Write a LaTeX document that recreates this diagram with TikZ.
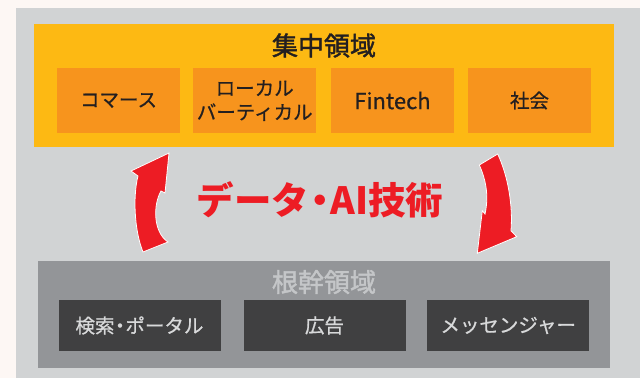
\documentclass[tikz,border=0pt]{standalone}
\usepackage{fontspec}
\setmainfont{Noto Sans CJK JP}
\newfontfamily\jp{Noto Sans CJK JP}
\newfontfamily\jplabel{Noto Sans CJK JP}[FakeBold=0.7]
\newfontfamily\jptitle{Noto Sans CJK JP}[FakeBold=1.6]
\newcommand\tightdot{\hspace{-0.22em}・\hspace{-0.22em}}
\definecolor{pagebg}{HTML}{FDF7F4}
\definecolor{panelgray}{HTML}{D1D3D4}
\definecolor{focusyellow}{HTML}{FDB913}
\definecolor{focusorange}{HTML}{F7941D}
\definecolor{coregray}{HTML}{939598}
\definecolor{coredark}{HTML}{404041}
\definecolor{coretitle}{HTML}{C4C6C8}
\definecolor{coretext}{HTML}{D8D9DA}
\definecolor{inktext}{HTML}{231F20}
\definecolor{arrowred}{HTML}{ED1C24}
\tikzset{
  areabox/.style={inner sep=0pt, outer sep=0pt},
  focusarea/.style={areabox, fill=focusyellow, minimum width=580pt, minimum height=122.7pt},
  corearea/.style={areabox, fill=coregray, minimum width=572pt, minimum height=107pt},
  focusitem/.style={areabox, fill=focusorange, minimum width=123pt, minimum height=65pt,
    text=inktext, align=center, font=\jplabel\fontsize{19.5}{24}\selectfont},
  coreitem/.style={areabox, fill=coredark, minimum width=162pt, minimum height=50.5pt,
    text=coretext, align=center, font=\jplabel\fontsize{19.5}{24}\selectfont},
  areatitle/.style={inner sep=0pt, font=\jptitle\fontsize{26}{30}\selectfont},
  cyclearrow/.style={fill=arrowred, draw=white, line width=0.8pt, line join=miter},
}
\begin{document}
\begin{tikzpicture}[x=1pt,y=-1pt]
\useasboundingbox (0,0) rectangle (640,378);
\fill[pagebg] (0,0) rectangle (640,378);
\fill[panelgray] (16,8) rectangle (640,378);

\node[focusarea] (focus) at (324,85.3) {};
\node[areatitle, text=inktext] (focustitle) at (324,45.5) {集中領域};
\node[focusitem] (commerce) at (118.5,100.5) {コマース};
\node[focusitem] (local) at (254.7,100.5) {ローカル\\バーティカル};
\node[focusitem, font=\jplabel\fontsize{22}{24}\selectfont] (fintech) at (392.5,100.5) {Fintech};
\node[focusitem] (society) at (529.5,100.5) {社会};

\node[corearea] (core) at (324,314.5) {};
\node[areatitle, text=coretitle] (coretitle) at (324,282) {根幹領域};
\node[coreitem] (search) at (139.5,325.5) {検索\tightdot ポータル};
\node[coreitem] (ads) at (324.5,325.5) {広告};
\node[coreitem] (messenger) at (508.2,325.5) {メッセンジャー};

\node[inner sep=0pt, text=arrowred, font=\jp\bfseries\fontsize{37.5}{40}\selectfont] (tech) at (320,200) {データ\tightdot AI技術};

% left arrow (up)
\path[cyclearrow] (143,252) .. controls (134,230) and (133,195) .. (138,176)
  -- (131,171) -- (169,153) -- (165,193) -- (161,191)
  .. controls (153,205) and (153,232) .. (168,242) -- cycle;
% right arrow (down)
\path[cyclearrow] (479.3,165) -- (497.7,154)
  .. controls (508,176) and (513,205) .. (511,230.7)
  -- (516.7,236.7) -- (477.3,253.3) -- (482.3,210.7) -- (485,214)
  .. controls (489,196) and (486,180) .. (479.3,165) -- cycle;
\end{tikzpicture}
\end{document}
